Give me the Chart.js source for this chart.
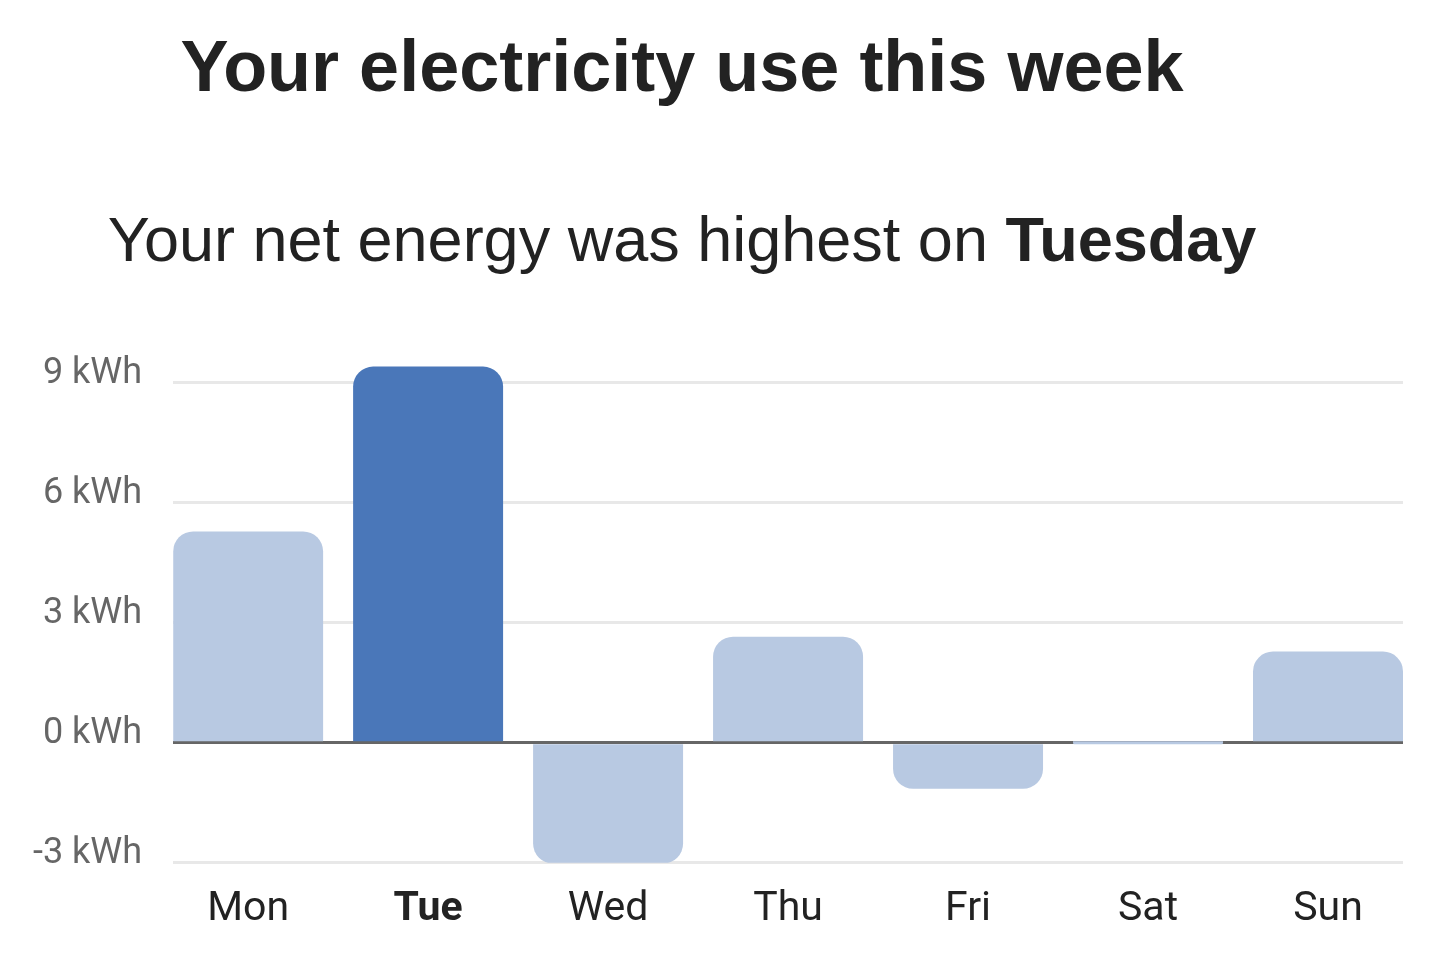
<!DOCTYPE html>
<html>
<head>
<meta charset="utf-8">
<title>Your electricity use this week</title>
<script src="https://cdn.jsdelivr.net/npm/chart.js@4.4.1/dist/chart.umd.min.js"></script>
<style>
  html, body { margin: 0; padding: 0; background: #fff; }
  body { width: 1442px; height: 972px; position: relative; overflow: hidden; }
  .head { position: absolute; left: 0; width: 1364px; text-align: center; color: #222;
          font-family: "Liberation Sans", Arial, sans-serif; line-height: 1; white-space: nowrap; }
  #title { top: 30px; font-size: 72px; font-weight: bold; }
  #subtitle { top: 208px; font-size: 63px; }
  #subtitle b { font-weight: bold; }
  #wrap { position: absolute; left: 0; top: 300px; width: 1442px; height: 672px; }
</style>
</head>
<body>
<div class="head" id="title">Your electricity use this week</div>
<div class="head" id="subtitle">Your net energy was highest on <b>Tuesday</b></div>
<div id="wrap"><canvas id="chart"></canvas></div>

<script>
const days = ['Mon', 'Tue', 'Wed', 'Thu', 'Fri', 'Sat', 'Sun'];
const netKwh = [5.28, 9.4, -3.02, 2.65, -1.15, 0, 2.28];
const yTicks = [-3, 0, 3, 6, 9];

const lightBlue = '#b8c9e2';
const darkBlue = '#4a77b9';

// highest day gets the dark bar and the bold label
const topDay = netKwh.indexOf(Math.max(...netKwh));

const ctx = document.getElementById('chart').getContext('2d');

new Chart(ctx, {
  type: 'bar',
  data: {
    datasets: [{
      data: netKwh.map((v, i) => ({ x: i, y: v })),
      backgroundColor: netKwh.map((v, i) => i === topDay ? darkBlue : lightBlue),
      borderWidth: 0,
      borderRadius: 20,
      borderSkipped: 'start',
      minBarLength: 3,
      categoryPercentage: 1,
      barPercentage: 150 / 180,
    }],
  },
  options: {
    responsive: true,
    maintainAspectRatio: false,
    animation: false,
    layout: { padding: { left: 2, right: 39, top: 52, bottom: 24 } },
    plugins: {
      legend: { display: false },
      tooltip: { enabled: false },
    },
    scales: {
      x: {
        type: 'linear',
        offset: false,
        min: -5 / 12,
        max: days.length - 1 + 5 / 12,
        grid: { display: false, offset: false },
        border: { display: false },
        afterBuildTicks: (scale) => {
          scale.ticks = days.map((d, i) => ({ value: i }));
        },
        ticks: {
          autoSkip: false,
          maxRotation: 0,
          padding: 14,
          color: '#222',
          font: (c) => ({
            family: 'Roboto',
            size: 41,
            weight: c.tick && c.tick.value === topDay ? 'bold' : 'normal',
          }),
          callback: (v) => days[v],
        },
      },
      y: {
        min: -3,
        max: 9.75,
        border: { display: false },
        grid: {
          drawTicks: false,
          lineWidth: 3,
          color: (c) => c.tick && c.tick.value === 0 ? '#666' : '#e8e8e8',
        },
        afterBuildTicks: (scale) => {
          scale.ticks = yTicks.map((v) => ({ value: v }));
        },
        ticks: {
          padding: 31,
          labelOffset: -9,
          color: '#666',
          font: { family: 'Roboto', size: 36 },
          callback: (v) => v + ' kWh',
        },
      },
    },
  },
});
</script>
</body>
</html>
